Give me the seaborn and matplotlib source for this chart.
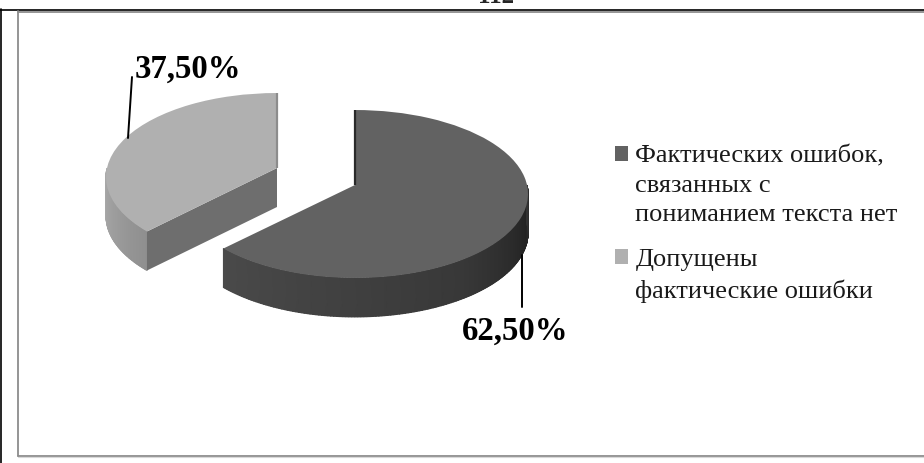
import numpy as np
import matplotlib
matplotlib.use("Agg")
import matplotlib.pyplot as plt
from matplotlib.transforms import Transform
import seaborn as sns

categories = ["Фактических ошибок,\nсвязанных с\nпониманием текста нет",
              "Допущены\nфактические ошибки"]
values = [62.5, 37.5]
value_labels = ["62,50%", "37,50%"]
top_colors = ["#626262", "#b0b0b0"]

sns.set_theme(style="white")
plt.rcParams["font.family"] = ["Liberation Serif", "DejaVu Serif"]

W, H = 924, 463


class Tilt(Transform):
    """Perspective of a tilted pie plane: unit pie -> pixel-like data coords."""
    input_dims = output_dims = 2
    is_separable = False
    has_inverse = False

    def __init__(self, cx, cy, a=172.0, b=83.0, k=0.107):
        super().__init__()
        self.p = (cx, cy, a, b, k)

    def transform_non_affine(self, xy):
        cx, cy, a, b, k = self.p
        xy = np.asarray(xy, float)
        u, v = xy[:, 0], xy[:, 1]
        w = 1 + k * v
        return np.column_stack([cx + a * u / w, cy - b * v / w])


fig = plt.figure(figsize=(W / 100, H / 100), dpi=100, facecolor="white")
ax = fig.add_axes([0, 0, 1, 1])

wedges, _ = ax.pie(values, colors=top_colors, startangle=90, counterclock=False,
                   radius=1, wedgeprops=dict(linewidth=0))
ax.set_aspect("auto")

# angle span of each slice, from the values
fractions = np.array(values) / sum(values)
start = 90 - 360 * np.concatenate([[0], np.cumsum(fractions)[:-1]])
end = start - 360 * fractions

origins = [(355, 185), (277, 168)]
depth = 39
tilts = [Tilt(*origins[0], a=172), Tilt(*origins[1], a=170)]
for w, t in zip(wedges, tilts):
    w.set_transform(t + ax.transData)
    w.set_zorder(5)


def wall(t, th0, th1, g0, g1, z=3, n=90):
    th = np.radians(np.linspace(th0, th1, n))
    top = t.transform_non_affine(np.column_stack([np.cos(th), np.sin(th)]))
    X = np.vstack([top[:, 0], top[:, 0]])
    Y = np.vstack([top[:, 1], top[:, 1] + depth])
    C = np.vstack([np.linspace(g0, g1, n)] * 2)
    ax.pcolormesh(X, Y, C, shading="gouraud", cmap="gray", vmin=0, vmax=1, zorder=z)


# main slice: outer wall visible from its front corner round to the right side
wall(tilts[0], end[0], end[0] + 80, 0.29, 0.22)
wall(tilts[0], end[0] + 80, end[0] + 120, 0.22, 0.14)
wall(tilts[0], end[0] + 120, end[0] + 135, 0.14, 0.2)
# second slice: outer wall from the left side to its front corner
wall(tilts[1], start[1] - 45, start[1], 0.68, 0.56)


def cut_face(t, th, color, z=4):
    th = np.radians(th)
    a = t.transform_non_affine(np.array([[0.0, 0.0], [np.cos(th), np.sin(th)]]))
    ax.fill([a[0, 0], a[1, 0], a[1, 0], a[0, 0]],
            [a[0, 1], a[1, 1], a[1, 1] + depth, a[0, 1] + depth],
            color=color, lw=0, zorder=z)


cut_face(tilts[1], start[1], "#6e6e6e")
# slim faces seen along the upper cut edges
for t, th, c, lw in [(tilts[0], start[0], "#2a2a2a", 1.6), (tilts[1], end[1], "#8c8c8c", 1.6)]:
    r = np.radians(th)
    a = t.transform_non_affine(np.array([[0.0, 0.0], [np.cos(r), np.sin(r)]]))
    ax.plot(a[:, 0], a[:, 1], color=c, lw=lw, zorder=6, solid_capstyle="butt")

# leader lines and value labels
ax.plot([128, 132], [138, 77], color="black", lw=1.4, zorder=7)
ax.plot([522, 522], [255, 307], color="black", lw=1.4, zorder=7)
ax.text(135, 78, value_labels[1], fontsize=23.6, fontweight="bold", color="black", va="baseline", zorder=8)
ax.text(462, 340, value_labels[0], fontsize=23.6, fontweight="bold", color="black", va="baseline", zorder=8)

# page furniture
ax.plot([0, W], [9.5, 9.5], color="black", lw=1.2, zorder=9)
ax.plot([0.6, 0.6], [9, H], color="black", lw=1.2, zorder=9)
ax.plot([18.4, 18.4], [11, 456], color="#8c8c8c", lw=1.3, zorder=9)
ax.plot([18, W], [11.5, 11.5], color="#8c8c8c", lw=1.3, zorder=9)
ax.plot([18, W], [455.5, 455.5], color="#8c8c8c", lw=1.3, zorder=9)
ax.plot([18, W], [457, 457], color="#d8d8d8", lw=0.8, zorder=9)
ax.text(496, 3, "112", fontsize=18, fontweight="bold", ha="center", va="baseline", zorder=9)

leg = ax.legend(wedges, categories, loc="upper left", bbox_to_anchor=(615 / W, 1 - 145.5 / H),
                frameon=False, fontsize=19, handlelength=0.5, handleheight=0.5, handletextpad=0.27,
                labelspacing=0.88, borderpad=0, borderaxespad=0, labelcolor="#1a1a1a")
for txt in leg.get_texts():
    txt.set_linespacing(1.43)
for hp in leg._legend_handle_box.get_children()[0].get_children():
    hp.align = "top"

ax.set_xlim(0, W)
ax.set_ylim(H, 0)
ax.set_frame_on(False)
ax.set_xticks([])
ax.set_yticks([])

fig.savefig("out.png", dpi=100)
